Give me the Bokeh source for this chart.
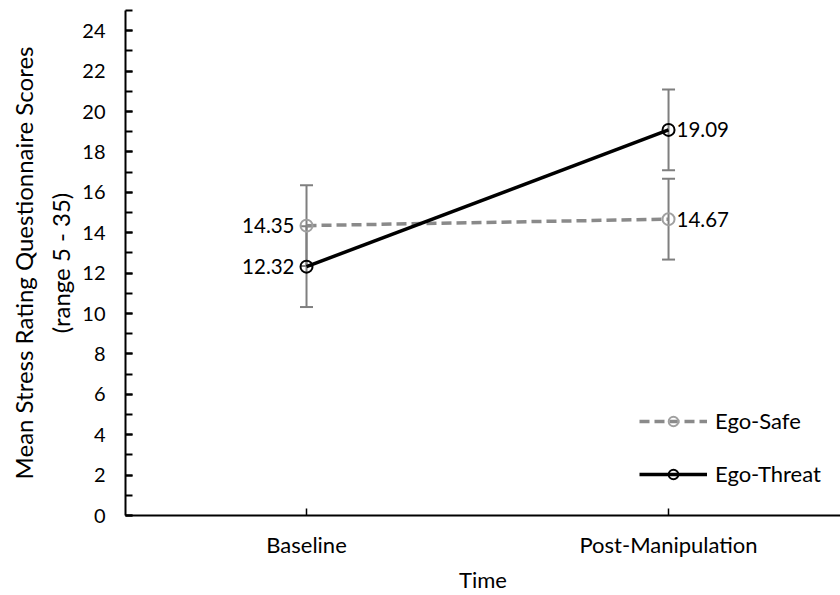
from bokeh.plotting import figure
from bokeh.models import (ColumnDataSource, Whisker, TeeHead, FixedTicker, Range1d,
                          Legend, LegendItem, SingleIntervalTicker)
from bokeh.core.properties import value
from bokeh.embed import file_html
from bokeh.resources import INLINE

categories = ["Baseline", "Post-Manipulation"]
ego_safe = [14.35, 14.67]
ego_threat = [12.32, 19.09]
safe_err = [2.0, 2.0]
threat_err = [2.0, 2.0]
series_names = ["Ego-Safe", "Ego-Threat"]

FONT = "Lato"
SAFE_LINE = "#8a8a8a"
SAFE_MARK = "#a0a0a0"
ERR = "#7f7f7f"

xs = list(range(len(categories)))

p = figure(width=840, height=595, x_range=Range1d(-0.5, 1.475), y_range=Range1d(0, 25),
           output_backend="svg", toolbar_location=None,
           min_border_left=125, min_border_top=10, min_border_bottom=80, min_border_right=0)
p.outline_line_color = None
p.xgrid.grid_line_color = None
p.ygrid.grid_line_color = None
p.background_fill_color = "white"
p.border_fill_color = "white"

# error bars
for vals, errs in ((ego_safe, safe_err), (ego_threat, threat_err)):
    src = ColumnDataSource(dict(x=xs,
                                lower=[v - e for v, e in zip(vals, errs)],
                                upper=[v + e for v, e in zip(vals, errs)]))
    w = Whisker(base="x", lower="lower", upper="upper", source=src,
                line_color=ERR, line_width=2,
                upper_head=TeeHead(size=13, line_color=ERR, line_width=2),
                lower_head=TeeHead(size=13, line_color=ERR, line_width=2))
    p.add_layout(w)

safe_src = ColumnDataSource(dict(x=xs, y=ego_safe))
threat_src = ColumnDataSource(dict(x=xs, y=ego_threat))

safe_line = p.line("x", "y", source=safe_src, line_color=SAFE_LINE, line_width=3.5,
                   line_dash="10 5")
safe_mark = p.scatter("x", "y", source=safe_src, marker="circle", size=12,
                      line_color=SAFE_MARK, line_width=2, fill_alpha=0)
threat_line = p.line("x", "y", source=threat_src, line_color="black", line_width=3.5)
threat_mark = p.scatter("x", "y", source=threat_src, marker="circle", size=12,
                        line_color="black", line_width=2, fill_alpha=0)

# data labels: baseline to the left, post-manipulation to the right
for vals in (ego_safe, ego_threat):
    left = ColumnDataSource(dict(x=[xs[0]], y=[vals[0]], lab=[f"{vals[0]:.2f}"]))
    right = ColumnDataSource(dict(x=[xs[1]], y=[vals[1]], lab=[f"{vals[1]:.2f}"]))
    p.text("x", "y", text="lab", source=left, text_align="right", text_baseline="middle",
           x_offset=-12, text_font=value(FONT), text_font_size="20.5px", text_color="black")
    p.text("x", "y", text="lab", source=right, text_align="left", text_baseline="middle",
           x_offset=8, text_font=value(FONT), text_font_size="20.5px", text_color="black")

# y axis
yax = p.yaxis[0]
yax.ticker = SingleIntervalTicker(interval=2, num_minor_ticks=2)
yax.axis_line_width = 2
yax.axis_line_color = "black"
yax.major_tick_in = 7
yax.major_tick_out = 0
yax.minor_tick_in = 7
yax.minor_tick_out = 0
yax.major_tick_line_width = 2
yax.minor_tick_line_width = 2
yax.major_label_standoff = 20
yax.major_label_text_font = FONT
yax.major_label_text_font_size = "20px"
yax.major_label_text_color = "black"
yax.axis_label = "Mean Stress Rating Questionnaire Scores\n(range 5 - 35)"
yax.axis_label_text_font = FONT
yax.axis_label_text_font_size = "24px"
yax.axis_label_text_font_style = "normal"
yax.axis_label_text_color = "black"
yax.axis_label_text_line_height = 1.3
yax.axis_label_standoff = 4

# x axis
xax = p.xaxis[0]
xax.ticker = FixedTicker(ticks=xs, minor_ticks=[])
xax.major_label_overrides = {i: c for i, c in enumerate(categories)}
xax.axis_line_width = 2
xax.axis_line_color = "black"
xax.major_tick_in = 7
xax.major_tick_out = 0
xax.major_tick_line_width = 1.5
xax.major_label_standoff = 15
xax.major_label_text_font = FONT
xax.major_label_text_font_size = "22px"
xax.major_label_text_color = "black"
xax.axis_label = "Time"
xax.axis_label_text_font = FONT
xax.axis_label_text_font_size = "22px"
xax.axis_label_text_font_style = "normal"
xax.axis_label_text_color = "black"
xax.axis_label_standoff = 5

legend = Legend(items=[LegendItem(label=series_names[0], renderers=[safe_line, safe_mark]),
                       LegendItem(label=series_names[1], renderers=[threat_line, threat_mark])],
                location=(514, 28), padding=0, margin=0, spacing=26,
                glyph_width=68, glyph_height=24, label_height=24, label_standoff=8,
                label_text_font=FONT, label_text_font_size="22px", label_text_color="black",
                border_line_alpha=0, background_fill_alpha=0)
p.add_layout(legend)

open("out.html", "w").write(file_html(p, INLINE))
